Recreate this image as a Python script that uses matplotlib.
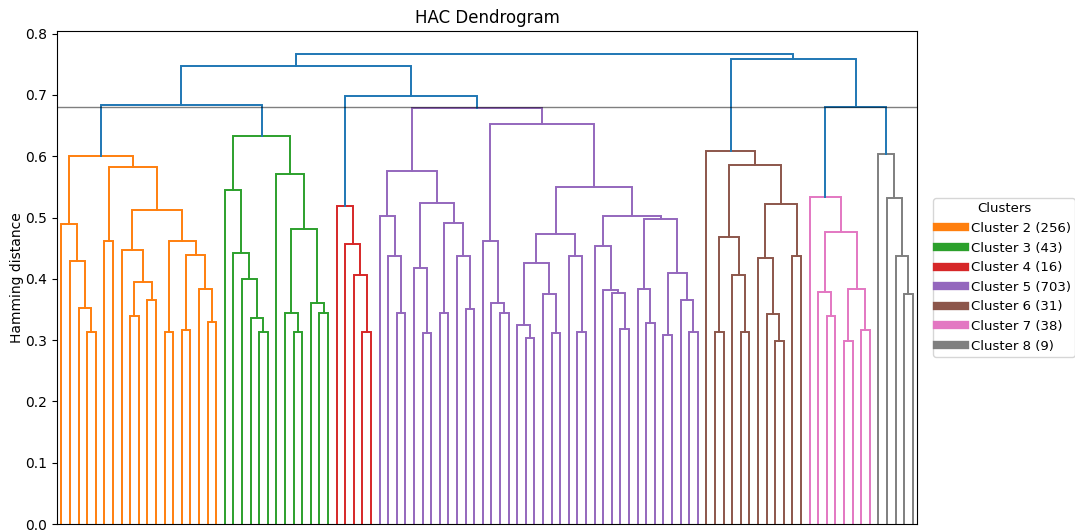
import matplotlib
matplotlib.use("Agg")
import matplotlib.pyplot as plt
from matplotlib.lines import Line2D

# ---- data: merge trees (height, left, right); L = single leaf ----
L = None

cluster_2 = (0.600,
             (0.489, L, (0.429, L, (0.352, L, (0.313, L, L)))),
             (0.583,
              (0.462, L, L),
              (0.512,
               (0.447, L, (0.395, (0.340, L, L), (0.365, L, L))),
               (0.461, (0.313, L, L),
                (0.439, (0.317, L, L), (0.384, L, (0.329, L, L)))))))

cluster_3 = (0.633,
             (0.545, L, (0.442, L, (0.399, L, (0.336, L, (0.313, L, L))))),
             (0.571, L, (0.482, (0.344, L, (0.313, L, L)),
                         (0.360, L, (0.344, L, L)))))

cluster_4 = (0.518, L, (0.457, L, (0.407, L, (0.313, L, L))))

cluster_5 = (0.679,
             (0.576,
              (0.502, L, (0.438, L, (0.344, L, L))),
              (0.523,
               (0.418, L, (0.312, L, L)),
               (0.491, (0.344, L, L), (0.438, L, (0.350, L, L))))),
             (0.653,
              (0.461, L, (0.360, L, (0.344, L, L))),
              (0.550,
               (0.473,
                (0.426, (0.324, L, (0.304, L, L)), (0.376, L, (0.312, L, L))),
                (0.438, L, (0.313, L, L))),
               (0.502,
                (0.453, L, (0.381, L, (0.377, L, (0.318, L, L)))),
                (0.498, (0.383, L, (0.328, L, L)),
                 (0.410, (0.308, L, L), (0.366, L, (0.313, L, L))))))))

cluster_6 = (0.609, L,
             (0.586,
              (0.469, (0.313, L, L), (0.407, L, (0.313, L, L))),
              (0.522, (0.434, L, (0.342, L, (0.298, L, L))), (0.438, L, L))))

cluster_7 = (0.533, L, (0.477, (0.379, L, (0.340, L, L)),
                        (0.384, (0.298, L, L), (0.317, L, L))))

cluster_8 = (0.603, L, (0.532, L, (0.438, L, (0.376, L, L))))

top_tree = (0.766,
            (0.748, (0.683, 'c2', 'c3'), (0.698, 'c4', 'c5')),
            (0.758, 'c6', (0.681, 'c7', 'c8')))

threshold = 0.68

cluster_names = ['Cluster 2', 'Cluster 3', 'Cluster 4', 'Cluster 5',
                 'Cluster 6', 'Cluster 7', 'Cluster 8']
cluster_sizes = [256, 43, 16, 703, 31, 38, 9]
cluster_colors = ['#ff7f0e', '#2ca02c', '#d62728', '#9467bd',
                  '#8c564b', '#e377c2', '#7f7f7f']
above_color = '#1f77b4'

subtrees = {'c2': cluster_2, 'c3': cluster_3, 'c4': cluster_4, 'c5': cluster_5,
            'c6': cluster_6, 'c7': cluster_7, 'c8': cluster_8}
sub_color = dict(zip(['c2', 'c3', 'c4', 'c5', 'c6', 'c7', 'c8'], cluster_colors))

# ---- drawing ----
fig = plt.figure(figsize=(10.75, 5.31), dpi=100)
ax = fig.add_axes([57 / 1075, 7 / 531, 860 / 1075, 493 / 531])

leaf_counter = [0]
LW = 1.4


def draw(node, color):
    """Returns (x, height) of node."""
    if node is None:
        x = 5 + 10 * leaf_counter[0]
        leaf_counter[0] += 1
        return x, 0.0
    if isinstance(node, str):
        return draw(subtrees[node], sub_color[node])
    h, left, right = node
    xl, hl = draw(left, color)
    xr, hr = draw(right, color)
    c = above_color if h > threshold else color
    ax.plot([xl, xl, xr, xr], [hl, h, h, hr], color=c, lw=LW,
            solid_joinstyle='miter')
    return (xl + xr) / 2, h


draw(top_tree, above_color)
n_leaves = leaf_counter[0]

ax.axhline(threshold, color='k', alpha=0.5, lw=1)
ax.set_xlim(0, 10 * n_leaves)
ax.set_ylim(0, top_tree[0] * 1.05)
ax.set_xticks([])
ax.set_ylabel('Hamming distance', labelpad=1)
ax.set_title('HAC Dendrogram')

handles = [Line2D([0], [0], color=c, lw=6) for c in cluster_colors]
labels = [f'{n} ({s})' for n, s in zip(cluster_names, cluster_sizes)]
ax.legend(handles, labels, title='Clusters', loc='center left',
          bbox_to_anchor=(1.016, 0.5), borderaxespad=0.2, fontsize=9.5,
          title_fontsize=9.5, handletextpad=0.45, borderpad=0.3,
          handlelength=2.1)

fig.savefig('out.png', dpi=100)
